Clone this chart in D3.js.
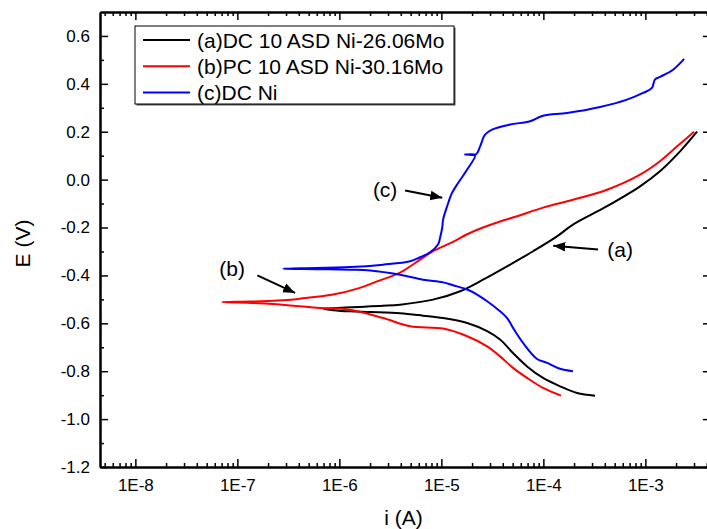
<!DOCTYPE html>
<html>
<head>
<meta charset="utf-8">
<script src="https://cdn.jsdelivr.net/npm/d3@7"></script>
<style>
  body { margin: 0; background: #fff; }
  svg { display: block; font-family: "Liberation Sans", Arial, sans-serif; }
</style>
</head>
<body>
<script>
// Polarization curves, values
const seriesNames = ["(a)DC 10 ASD Ni-26.06Mo", "(b)PC 10 ASD Ni-30.16Mo", "(c)DC Ni"];
const seriesColors = ["#000000", "#ff0000", "#0000ff"];

// (a) black
const aCurrent = [3.21e-4, 2.14e-4, 1.46e-4, 9.93e-5, 6.92e-5, 5.04e-5, 3.76e-5, 2.81e-5, 1.79e-5, 1.04e-5,
  6.61e-6, 3.94e-6, 2.0e-6, 1.27e-6, 8.67e-7, 7.0e-7, 8.67e-7, 1.27e-6, 2.68e-6, 3.94e-6,
  8.28e-6, 1.53e-5, 2.56e-5, 4.41e-5, 7.93e-5, 1.36e-4, 1.95e-4, 4.21e-4, 8.87e-4, 1.39e-3, 2.19e-3, 3.21e-3];
const aPotential = [-0.902, -0.891, -0.863, -0.828, -0.78, -0.724, -0.668, -0.633, -0.599, -0.578,
  -0.568, -0.558, -0.553, -0.55, -0.545, -0.54, -0.537, -0.533, -0.527, -0.522,
  -0.501, -0.466, -0.418, -0.362, -0.299, -0.237, -0.188, -0.111, -0.028, 0.035, 0.118, 0.2];

// (b) red
const bCurrent = [1.49e-4, 9.93e-5, 6.92e-5, 5.04e-5, 3.76e-5, 2.81e-5, 1.79e-5, 1.04e-5, 4.93e-6, 2.68e-6,
  1.27e-6, 6.04e-7, 2.0e-7, 7.08e-8, 1.33e-7, 2.5e-7, 4.12e-7, 8.67e-7, 1.59e-6, 2.34e-6,
  3.94e-6, 6.18e-6, 8.28e-6, 1.27e-5, 1.79e-5, 2.56e-5, 3.76e-5, 5.52e-5, 9.93e-5, 1.95e-4,
  4.21e-4, 8.87e-4, 1.39e-3, 2.05e-3, 3.0e-3];
const bPotential = [-0.902, -0.87, -0.828, -0.786, -0.738, -0.696, -0.654, -0.622, -0.612, -0.578,
  -0.543, -0.535, -0.518, -0.511, -0.509, -0.505, -0.497, -0.48, -0.452, -0.425,
  -0.388, -0.334, -0.299, -0.262, -0.228, -0.2, -0.175, -0.153, -0.117, -0.084,
  -0.042, 0.021, 0.077, 0.139, 0.2];

// (c) blue
const cCurrent = [1.95e-4, 1.46e-4, 1.09e-4, 8.67e-5, 6.32e-5, 5.04e-5, 4.41e-5, 3.60e-5, 2.81e-5, 2.24e-5,
  1.79e-5, 1.30e-5, 1.04e-5, 6.61e-6, 3.94e-6, 2.0e-6, 1.27e-6, 6.0e-7, 2.81e-7, 4.12e-7,
  1.27e-6, 2.68e-6, 4.93e-6, 6.18e-6, 7.74e-6, 9.27e-6, 9.70e-6, 1.02e-5, 1.04e-5, 1.14e-5,
  1.27e-5, 1.46e-5, 1.79e-5, 2.14e-5, 1.71e-5, 2.19e-5, 2.40e-5, 2.68e-5, 3.14e-5, 4.71e-5,
  7.40e-5, 9.93e-5, 1.71e-4, 3.60e-4, 6.61e-4, 9.49e-4, 1.16e-3, 1.24e-3, 1.39e-3, 1.87e-3, 2.40e-3];
const cPotential = [-0.8, -0.79, -0.765, -0.749, -0.682, -0.619, -0.578, -0.543, -0.508, -0.48,
  -0.459, -0.441, -0.429, -0.418, -0.397, -0.379, -0.376, -0.374, -0.372, -0.37,
  -0.365, -0.355, -0.341, -0.324, -0.304, -0.271, -0.244, -0.2, -0.167, -0.111,
  -0.056, -0.014, 0.042, 0.103, 0.105, 0.106, 0.139, 0.188, 0.209, 0.23,
  0.244, 0.267, 0.278, 0.303, 0.334, 0.362, 0.383, 0.418, 0.429, 0.459, 0.504];

// axis ticks
const xMajorTicks = [1e-8, 1e-7, 1e-6, 1e-5, 1e-4, 1e-3];
const yMajorTicks = [-1.2, -1.0, -0.8, -0.6, -0.4, -0.2, 0.0, 0.2, 0.4, 0.6];
const yMinorTicks = [-1.1, -0.9, -0.7, -0.5, -0.3, -0.1, 0.1, 0.3, 0.5];

// annotation labels with arrows (data coordinates)
const annoLabels = ["(a)", "(b)", "(c)"];
const annoTextI = [5.65e-4, 8.9e-8, 2.81e-6];
const annoTextE = [-0.292, -0.372, -0.042];
const arrowFromI = [3.44e-4, 1.57e-7, 4.41e-6];
const arrowFromE = [-0.292, -0.40, -0.045];
const arrowToI = [1.25e-4, 3.68e-7, 1.02e-5];
const arrowToE = [-0.276, -0.473, -0.076];

const W = 707, H = 529;
const margin = { top: 12, right: -4, bottom: 62, left: 100 };
const width = W - margin.left - margin.right;
const height = H - margin.top - margin.bottom;

const svgRoot = d3.select("body").append("svg")
  .attr("width", W)
  .attr("height", H);

const svg = svgRoot.append("g")
  .attr("transform", `translate(${margin.left},${margin.top})`);

const x = d3.scaleLog().domain([4.5e-9, 4.4e-3]).range([0, width]);
const y = d3.scaleLinear().domain([-1.2, 0.7]).range([height, 0]);

const xMinor = x.ticks().filter(v => !xMajorTicks.some(m => Math.abs(m - v) / m < 1e-6));

// curves
const series = [
  { i: aCurrent, e: aPotential },
  { i: bCurrent, e: bPotential },
  { i: cCurrent, e: cPotential }
];

const line = d3.line()
  .x(d => x(d[0]))
  .y(d => y(d[1]))
  .curve(d3.curveCatmullRom.alpha(0.5));

series.forEach((s, k) => {
  svg.append("path")
    .datum(d3.zip(s.i, s.e))
    .attr("fill", "none")
    .attr("stroke", seriesColors[k])
    .attr("stroke-width", 2)
    .attr("stroke-linejoin", "round")
    .attr("d", line);
});

// axes: major and minor ticks, all pointing inward
function styleAxis(g) {
  g.select(".domain").attr("stroke-width", 2);
  g.selectAll(".tick line").attr("stroke-width", 1.5);
  g.selectAll("text").attr("fill", "#000").style("font-size", "17px")
    .style("font-family", '"Liberation Sans", Arial, sans-serif');
}

const fmtX = d => "1E" + Math.round(Math.log10(d));
const fmtY = d => d.toFixed(1); // plain hyphen minus like the original

svg.append("g")
  .attr("transform", `translate(0,${height})`)
  .call(d3.axisBottom(x).tickValues(xMajorTicks).tickFormat(fmtX)
    .tickSize(-8).tickSizeOuter(0).tickPadding(12))
  .call(styleAxis);
svg.append("g")
  .attr("transform", `translate(0,${height})`)
  .call(d3.axisBottom(x).tickValues(xMinor).tickFormat("").tickSize(-4).tickSizeOuter(0))
  .call(styleAxis);

svg.append("g")
  .call(d3.axisTop(x).tickValues(xMajorTicks).tickFormat("").tickSize(-8).tickSizeOuter(0))
  .call(styleAxis);
svg.append("g")
  .call(d3.axisTop(x).tickValues(xMinor).tickFormat("").tickSize(-4).tickSizeOuter(0))
  .call(styleAxis);

svg.append("g")
  .call(d3.axisLeft(y).tickValues(yMajorTicks).tickFormat(fmtY)
    .tickSize(-8).tickSizeOuter(0).tickPadding(10))
  .call(styleAxis);
svg.append("g")
  .call(d3.axisLeft(y).tickValues(yMinorTicks).tickFormat("").tickSize(-4).tickSizeOuter(0))
  .call(styleAxis);

svg.append("g")
  .attr("transform", `translate(${width},0)`)
  .call(d3.axisRight(y).tickValues(yMajorTicks).tickFormat("").tickSize(-8).tickSizeOuter(0))
  .call(styleAxis);
svg.append("g")
  .attr("transform", `translate(${width},0)`)
  .call(d3.axisRight(y).tickValues(yMinorTicks).tickFormat("").tickSize(-4).tickSizeOuter(0))
  .call(styleAxis);

// axis titles
svgRoot.append("text")
  .attr("x", margin.left + width / 2 - 2)
  .attr("y", 517)
  .attr("text-anchor", "middle")
  .attr("dominant-baseline", "central")
  .style("font-size", "21px")
  .text("i (A)");

svgRoot.append("text")
  .attr("transform", `translate(22,${margin.top + height / 2 + 4}) rotate(-90)`)
  .attr("text-anchor", "middle")
  .attr("dominant-baseline", "central")
  .style("font-size", "21px")
  .text("E (V)");

// annotations
const defs = svgRoot.append("defs");
defs.append("marker")
  .attr("id", "arrow")
  .attr("viewBox", "0 0 10 10")
  .attr("refX", 10).attr("refY", 5)
  .attr("markerWidth", 6).attr("markerHeight", 6)
  .attr("markerUnits", "strokeWidth")
  .attr("orient", "auto")
  .append("path")
  .attr("d", "M0,1 L10,5 L0,9 Z")
  .attr("fill", "#000");

annoLabels.forEach((lab, k) => {
  svg.append("line")
    .attr("x1", x(arrowFromI[k])).attr("y1", y(arrowFromE[k]))
    .attr("x2", x(arrowToI[k])).attr("y2", y(arrowToE[k]))
    .attr("stroke", "#000")
    .attr("stroke-width", 2)
    .attr("marker-end", "url(#arrow)");
  svg.append("text")
    .attr("x", x(annoTextI[k])).attr("y", y(annoTextE[k]))
    .attr("text-anchor", "middle")
    .attr("dominant-baseline", "central")
    .style("font-size", "21px")
    .text(lab);
});

// legend
const legend = svgRoot.append("g").attr("transform", "translate(135,26)");
legend.append("rect")
  .attr("x", 1.5).attr("y", 1.5)
  .attr("width", 319).attr("height", 78)
  .attr("fill", "#555");
legend.append("rect")
  .attr("width", 319).attr("height", 78)
  .attr("fill", "#fff")
  .attr("stroke", "#000")
  .attr("stroke-width", 1);

seriesNames.forEach((name, k) => {
  const ly = 14 + k * 26.3;
  legend.append("line")
    .attr("x1", 8).attr("x2", 55)
    .attr("y1", ly).attr("y2", ly)
    .attr("stroke", seriesColors[k])
    .attr("stroke-width", 2);
  legend.append("text")
    .attr("x", 62).attr("y", ly)
    .attr("dominant-baseline", "central")
    .style("font-size", "21px")
    .text(name);
});
</script>
</body>
</html>
